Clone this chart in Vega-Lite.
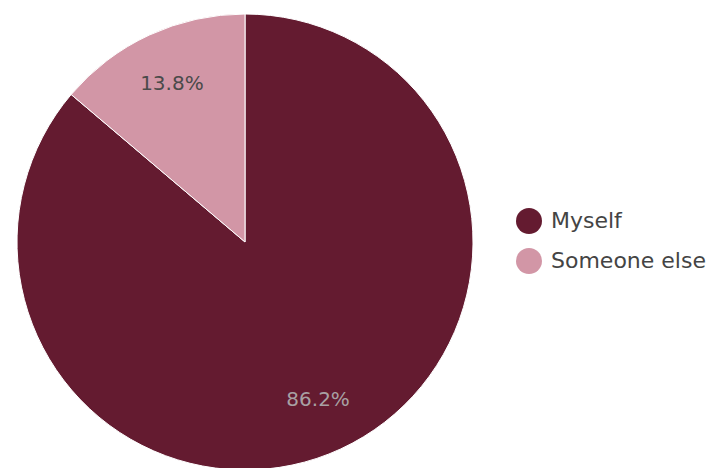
{
  "$schema": "https://vega.github.io/schema/vega-lite/v6.json",
  "width": 490,
  "height": 456,
  "padding": {"left": 0, "top": 12, "right": 0, "bottom": 0},
  "background": "white",
  "view": {"stroke": null},
  "data": {"values": [
    {"answer": "Myself", "share": 0.862, "order": 1},
    {"answer": "Someone else", "share": 0.138, "order": 2}
  ]},
  "encoding": {
    "theta": {"field": "share", "type": "quantitative", "stack": true},
    "order": {"field": "order", "type": "quantitative"}
  },
  "layer": [
    {
      "mark": {"type": "arc", "outerRadius": 228, "stroke": "white", "strokeWidth": 1},
      "encoding": {
        "color": {
          "field": "answer", "type": "nominal",
          "scale": {"domain": ["Myself", "Someone else"], "range": ["#641b30", "#d296a6"]},
          "legend": {
            "title": null, "orient": "none", "legendX": 516, "legendY": 194,
            "symbolType": "circle", "symbolSize": 676, "symbolStrokeWidth": 0,
            "labelFontSize": 22, "labelFont": "DejaVu Sans", "labelColor": "#444",
            "labelOffset": 9, "rowPadding": 14
          }
        }
      }
    },
    {
      "mark": {"type": "text", "radius": 174, "font": "DejaVu Sans", "fontSize": 20},
      "encoding": {
        "text": {"field": "share", "type": "quantitative", "format": ".1%"},
        "color": {"condition": {"test": "datum.answer === 'Myself'", "value": "#a8a0a3"}, "value": "#4a4a4a"}
      }
    }
  ]
}
